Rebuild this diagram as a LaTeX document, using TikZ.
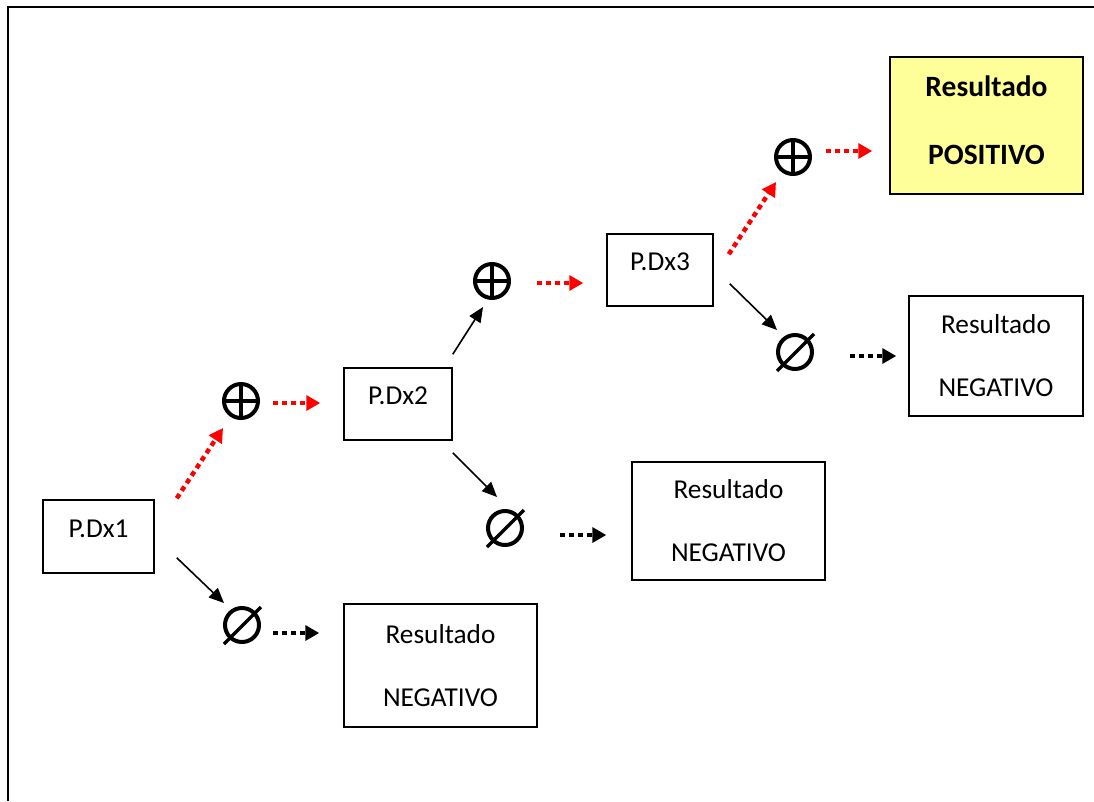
\documentclass[tikz,border=0pt]{standalone}
\usepackage{fontspec}
\setmainfont{Carlito}
\usetikzlibrary{arrows.meta}
\definecolor{posfill}{RGB}{255,255,153}
\begin{document}
\begin{tikzpicture}[x=1pt,y=-1pt,
  every node/.style={font=\fontsize{27.3}{32}\selectfont},
  testbox/.style={draw, line width=1.5pt, inner sep=0pt,
    text height=17.6pt, text depth=16.6pt,
    minimum width=108pt, minimum height=72pt},
  resultbox/.style={draw, line width=1.5pt, inner sep=0pt, align=center,
    font=\fontsize{27.3}{63}\selectfont},
  posbox/.style={resultbox, fill=posfill, text depth=10.5pt,
    font=\fontsize{29.5}{68}\selectfont\bfseries},
  sym/.style={circle, draw, line width=4pt, minimum size=34pt, inner sep=0pt},
  plussym/.style={sym, path picture={
    \draw[line width=3.5pt]
      (path picture bounding box.west) -- (path picture bounding box.east)
      (path picture bounding box.north) -- (path picture bounding box.south);}},
  solidflow/.style={line width=1.6pt, -{Triangle[length=15pt,width=13pt]}},
  dotflow/.style={line width=4.5pt, dash pattern=on 5pt off 4pt,
    -{Triangle[length=14pt,width=15pt]}},
  redflow/.style={dotflow, red},
]
\useasboundingbox (0,0) rectangle (1094,801);

% page frame
\draw[line width=2pt] (8,801) -- (8,7) -- (1094,7);

% test boxes
\node[testbox, minimum width=111pt, minimum height=73pt] (pdx1) at (98.5,536.5) {P.Dx1};
\node[testbox] (pdx2) at (398,404) {P.Dx2};
\node[testbox, minimum width=106pt] (pdx3) at (660,270) {P.Dx3};

% result boxes
\node[resultbox, minimum width=193pt, minimum height=123pt] (neg1) at (440.5,665.5) {Resultado\\NEGATIVO};
\node[resultbox, minimum width=193pt, minimum height=118pt] (neg2) at (728.5,521) {Resultado\\NEGATIVO};
\node[resultbox, minimum width=174pt, minimum height=120pt] (neg3) at (996,356) {Resultado\\NEGATIVO};
\node[posbox, minimum width=193pt, minimum height=137pt] (pos) at (986.5,125.5) {Resultado\\POSITIVO};

% positive / negative markers
\node[plussym] (p1) at (241,401) {};
\node[plussym] (p2) at (492,281) {};
\node[plussym] (p3) at (793,157) {};
\node[sym] (z1) at (242,625) {};
\node[sym] (z2) at (505,528) {};
\node[sym] (z3) at (795,352) {};
\foreach \z in {z1,z2,z3}
  \draw[line width=3.5pt] (\z.center) ++(-18,19) -- ++(37,-37);

% branches
\draw[redflow]   ([shift={(22,-1)}]pdx1.north east) -- ([shift={(-18,27)}]p1.center);
\draw[redflow]   ([shift={(32,2)}]p1.center) -- ([shift={(-23,-1)}]pdx2.west);
\draw[solidflow] ([shift={(22,-16)}]pdx1.south east) -- ([shift={(-18,-22)}]z1.center);
\draw[dotflow]   ([shift={(31,8)}]z1.center) -- ([shift={(-24,-32.5)}]neg1.west);

\draw[solidflow] ([shift={(0,-13)}]pdx2.north east) -- ([shift={(-9,26)}]p2.center);
\draw[redflow]   ([shift={(45,2)}]p2.center) -- ([shift={(-23,13)}]pdx3.west);
\draw[solidflow] ([shift={(0,12)}]pdx2.south east) -- ([shift={(-8,-31)}]z2.center);
\draw[dotflow]   ([shift={(55,7)}]z2.center) -- ([shift={(-25,14)}]neg2.west);

\draw[redflow]   ([shift={(15,21)}]pdx3.north east) -- ([shift={(-17,25)}]p3.center);
\draw[redflow]   ([shift={(33,-6)}]p3.center) -- ([shift={(-17,25.5)}]pos.west);
\draw[solidflow] ([shift={(16,-23)}]pdx3.south east) -- ([shift={(-18,-22)}]z3.center);
\draw[dotflow]   ([shift={(55,4)}]z3.center) -- ([shift={(-12,0)}]neg3.west);
\end{tikzpicture}
\end{document}
